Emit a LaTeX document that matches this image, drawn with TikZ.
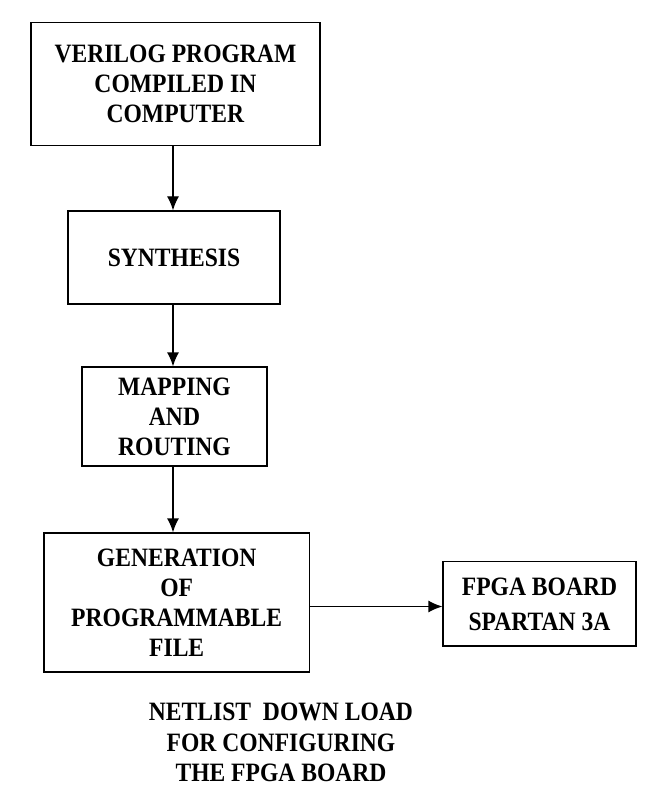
\documentclass[tikz,border=0pt]{standalone}
\usepackage{fontspec}
\setmainfont{Liberation Serif}
\newfontfamily\boxfont[FakeStretch=0.89]{Liberation Serif}
\usetikzlibrary{arrows.meta}
\begin{document}
\begin{tikzpicture}[x=1pt,y=-1pt,
  box/.style={draw=black, line width=1.3pt, inner sep=0pt, align=center,
    font=\boxfont\fontsize{26.5}{30}\selectfont\bfseries},
  arr/.style={line width=1.3pt, -{Latex[length=14pt,width=12pt]}},
  note/.style={align=center, inner sep=0pt, font=\boxfont\fontsize{26.5}{30.5}\selectfont\bfseries}]
\path[fill=white,use as bounding box] (0,0) rectangle (654,791);
\node[box, minimum width=289pt, minimum height=123pt] (b1) at (175.4,84.2)
  {VERILOG PROGRAM\\COMPILED IN\\COMPUTER};
\node[box, minimum width=212pt, minimum height=93pt] (b2) at (174,257.5)
  {SYNTHESIS};
\node[box, minimum width=185pt, minimum height=99pt] (b3) at (174.5,416.5)
  {MAPPING\\AND\\ROUTING};
\node[box, minimum width=265.5pt, minimum height=139pt] (b4) at (176.7,602.5)
  {GENERATION\\OF\\PROGRAMMABLE\\FILE};
\node[box, minimum width=193pt, minimum height=84.3pt] (b5) at (539.5,603.9)
  {FPGA BOARD\\[5pt]SPARTAN 3A};
\node[note] (n1) at (281,742.5)
  {NETLIST\ \ DOWN LOAD\\FOR CONFIGURING\\THE FPGA BOARD};
\coordinate (ax) at (173,0);
\coordinate (ay) at (0,606.5);
\draw[arr] (b1.south -| ax) -- (b2.north -| ax);
\draw[arr] (b2.south -| ax) -- (b3.north -| ax);
\draw[arr] (b3.south -| ax) -- (b4.north -| ax);
\draw[arr] (b4.east |- ay) -- (b5.west |- ay);
\end{tikzpicture}
\end{document}
